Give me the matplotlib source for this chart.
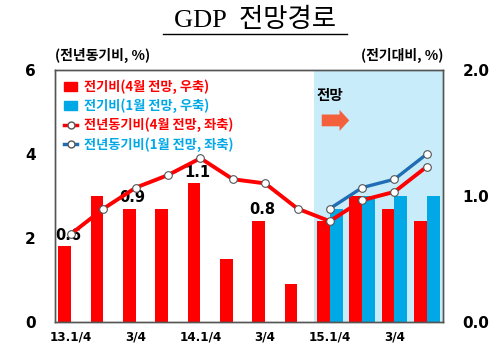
import numpy as np
import matplotlib
matplotlib.use('Agg')
import matplotlib.pyplot as plt
from matplotlib.patches import Patch, FancyArrow
from matplotlib.lines import Line2D

plt.rcParams['font.family'] = ['Noto Sans CJK KR', 'DejaVu Sans']

quarters = ['13.1/4', '13.2/4', '13.3/4', '13.4/4', '14.1/4', '14.2/4',
            '14.3/4', '14.4/4', '15.1/4', '15.2/4', '15.3/4', '15.4/4']
tick_labels = ['13.1/4', '', '3/4', '', '14.1/4', '', '3/4', '', '15.1/4', '', '3/4', '']

qoq_apr = [0.6, 1.0, 0.9, 0.9, 1.1, 0.5, 0.8, 0.3, 0.8, 1.0, 0.9, 0.8]
qoq_jan = [np.nan] * 8 + [0.9, 1.0, 1.0, 1.0]
yoy_apr = [2.1, 2.7, 3.2, 3.5, 3.9, 3.4, 3.3, 2.7, 2.4, 2.9, 3.1, 3.7]
yoy_jan = [np.nan] * 8 + [2.7, 3.2, 3.4, 4.0]
labelled = {0: '0.6', 2: '0.9', 4: '1.1', 6: '0.8'}

red = '#ff0000'
cyan = '#00a8e6'
dblue = '#1f6db4'

fig = plt.figure(figsize=(5, 3.59), dpi=100)
ax = fig.add_axes([0.11, 0.103, 0.776, 0.702])
ax2 = ax.twinx()
x = np.arange(len(quarters))
w = 0.4

# bars on the primary axes (right scale), lines on the twin (left scale)
ax.axvspan(7.5, 11.5, color='#c8ecf9', zorder=0, lw=0)
ax.bar(x - w / 2, qoq_apr, w, color=red, zorder=2)
ax.bar(x + w / 2, qoq_jan, w, color=cyan, zorder=2)
ax.set_ylim(0, 2)
ax.set_xlim(-0.5, 11.5)
ax.yaxis.tick_right()
ax.set_yticks([0, 1, 2])
ax.set_yticklabels(['0.0', '1.0', '2.0'])
for i, s in labelled.items():
    ax.text(i - 0.1, qoq_apr[i] + 0.03, s, ha='center', va='bottom',
            fontsize=10.5, fontweight='bold', family='DejaVu Sans', zorder=5)

ax2.yaxis.tick_left()
ax2.plot(x, yoy_apr, color=red, lw=2.8, marker='o', ms=5.5, mfc='white',
         mec='#555555', mew=0.8, zorder=4)
ax2.plot(x, yoy_jan, color=dblue, lw=2.4, marker='o', ms=5.5, mfc='white',
         mec='#555555', mew=0.8, zorder=3)
ax2.set_ylim(0, 6)
ax2.set_yticks([0, 2, 4, 6])

for a in (ax, ax2):
    a.tick_params(length=0, labelsize=11, pad=14)
    for sp in a.spines.values():
        sp.set_color('#555555')
        sp.set_linewidth(1.0)
    for t in a.get_yticklabels():
        t.set_fontweight('bold')
        t.set_family('DejaVu Sans')

ax.set_xticks(x)
ax.set_xticklabels(tick_labels)
ax.tick_params(axis='x', pad=6)
for t in ax.get_xticklabels():
    t.set_fontweight('bold')
    t.set_family('DejaVu Sans')
    t.set_fontsize(9.5)
    t.set_fontstretch('condensed')

handles = [Patch(color=red), Patch(color=cyan),
           Line2D([], [], color=red, lw=2.5, marker='o', ms=5, mfc='white', mec='#555555'),
           Line2D([], [], color=dblue, lw=2.5, marker='o', ms=5, mfc='white', mec='#555555')]
labels = ['전기비(4월 전망, 우축)', '전기비(1월 전망, 우축)',
          '전년동기비(4월 전망, 좌축)', '전년동기비(1월 전망, 좌축)']
leg = ax2.legend(handles, labels, loc='upper left', bbox_to_anchor=(0.0, 1.0),
                 frameon=False, handlelength=1.0, handletextpad=0.5,
                 labelspacing=0.35, prop={'weight': 'bold', 'size': 9.5},
                 labelcolor=[red, cyan, red, cyan], borderaxespad=0.3)

ax2.text(8.0, 5.4, '전망', fontsize=10.5, fontweight='bold', ha='center', va='center')
ax2.add_patch(FancyArrow(7.75, 4.8, 0.55, 0, width=0.28, head_width=0.5,
                         head_length=0.3, color='#f4603c', lw=0, zorder=5))

fig.text(0.11, 0.845, '(전년동기비, %)', fontsize=10, fontweight='bold', ha='left', va='center')
fig.text(0.886, 0.845, '(전기대비, %)', fontsize=10, fontweight='bold', ha='right', va='center')

fig.text(0.51, 0.945, 'GDP  전망경로', fontsize=19, ha='center', va='center',
         family=['Liberation Serif', 'Noto Sans CJK KR'])
fig.add_artist(Line2D([0.326, 0.694], [0.905, 0.905], color='black', lw=1.0))

fig.savefig('out.png', dpi=100)
